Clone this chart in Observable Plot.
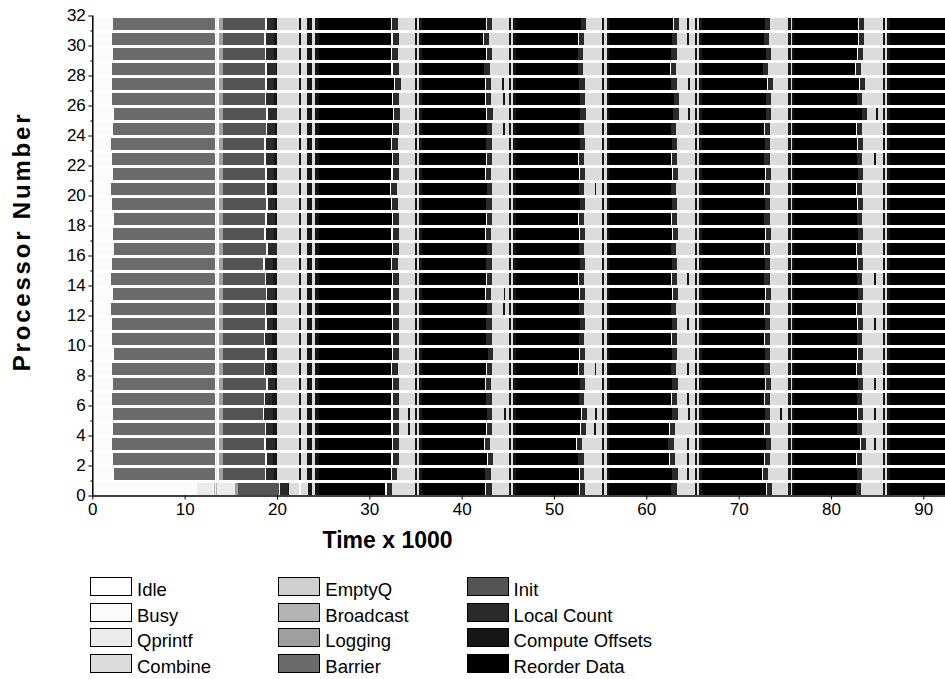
<!DOCTYPE html>
<html>
<head>
<meta charset="utf-8">
<script src="https://cdn.jsdelivr.net/npm/d3@7"></script>
<script src="https://cdn.jsdelivr.net/npm/@observablehq/plot@0.6"></script>
<style>
  html, body { margin: 0; padding: 0; background: #fff; }
  body { width: 945px; height: 679px; position: relative; overflow: hidden; font-family: "Liberation Sans", Arial, sans-serif; }
  #chart { position: absolute; left: 0; top: 0; }
  .item { position: absolute; display: flex; align-items: flex-start; height: 19px; white-space: nowrap; }
  .sw { width: 42px; height: 19px; box-sizing: border-box; border: 1.5px solid #000; flex: none; }
  .lb { margin-left: 5px; font-size: 18.5px; line-height: 19px; position: relative; top: 3px; color: #000; }
</style>
</head>
<body>
<div id="chart"></div>
<div id="legend"></div>
<script>
// ---- categories (states) and their grey levels ----
const stateNames = ["Idle", "Busy", "Qprintf", "Combine", "EmptyQ", "Broadcast", "Logging", "Barrier", "Init", "Local Count", "Compute Offsets", "Reorder Data"];
const stateColors = ["#ffffff", "#fbfbfb", "#ebebeb", "#dcdcdc", "#cfcfcf", "#b4b4b4", "#9f9f9f", "#6b6b6b", "#545454", "#2a2a2a", "#161616", "#000000"];

// ---- tick labels ----
const xTicks = [0, 10, 20, 30, 40, 50, 60, 70, 80, 90];
const yTicks = [0, 2, 4, 6, 8, 10, 12, 14, 16, 18, 20, 22, 24, 26, 28, 30, 32];
const yMinorTicks = [1, 3, 5, 7, 9, 11, 13, 15, 17, 19, 21, 23, 25, 27, 29, 31];

// ---- processor 0 start-up (state, end time) ----
const p0States = ["Busy", "Qprintf", "Idle", "Broadcast", "Qprintf", "Broadcast", "Qprintf", "Logging", "Init", "Idle", "Local Count", "Compute Offsets", "Combine", "Busy", "Combine", "Compute Offsets", "Combine", "Compute Offsets"];
const p0Ends = [11.35, 13.08, 13.2, 13.3, 13.45, 13.55, 15.5, 15.75, 20.25, 20.35, 21.15, 21.35, 22.4, 22.55, 23.35, 23.8, 24.15, 24.55];

// ---- processors 1..31 start-up (null = per-processor value) ----
const prologueStates = ["Idle", "Busy", "Barrier", "Idle", "Qprintf", "Idle", "Logging", "Init", "Idle", "Local Count", "Compute Offsets", "Combine", "Compute Offsets", "Combine", "Compute Offsets", "Combine", "Compute Offsets"];
const prologueEnds = [0.25, null, 13.3, 13.44, 13.55, 13.76, 14.12, null, null, null, 19.95, 22.35, 22.55, 23.3, 23.8, 24.1, 24.57];

// ---- phase boundaries shared by all processors (6 cycles) ----
const combineEnd = [34.95, 45.13, 55.17, 65.28, 75.39, 85.6];
const offsetsEnd = [35.2, 45.38, 55.42, 65.53, 75.64, 85.85];
const reorderStart = [35.42, 45.6, 55.71, 65.75, 75.82, 86.1];
const offsetsEnd2 = [35.68, 45.85, 55.95, 66.0, 76.05, 86.35];

// ---- per processor: barrier start, init end, count start, count end,
//      then per cycle: reorder end, local count start, local count end ----
const proc00 = [null, null, null, null, 31.70, 31.90, 32.50, 42.57, 42.64, 43.25, 52.75, 52.82, 53.36, 62.64, 62.64, 63.29, 72.93, 73.04, 73.58, 82.72, 82.72, 83.26];
const proc01 = [2.30, 18.75, 18.85, 19.65, 32.30, 32.45, 33.00, 42.50, 42.50, 43.15, 52.70, 52.80, 53.30, 62.82, 62.82, 63.40, 72.57, 72.64, 73.15, 82.79, 82.79, 83.33];
const proc02 = [2.24, 18.70, 18.95, 19.60, 32.35, 32.60, 33.22, 42.78, 42.82, 43.36, 52.64, 52.64, 53.25, 62.49, 62.57, 63.11, 72.78, 72.86, 73.40, 82.71, 82.79, 83.33];
const proc03 = [2.13, 18.60, 18.81, 19.75, 32.42, 32.60, 33.22, 42.42, 42.53, 43.07, 52.39, 52.46, 53.00, 62.39, 62.39, 63.00, 72.93, 72.97, 73.51, 83.15, 83.22, 83.76];
const proc04 = [2.24, 18.70, 18.81, 19.60, 32.35, 32.57, 33.22, 42.64, 42.71, 43.25, 52.82, 52.93, 53.43, 62.49, 62.57, 63.11, 72.78, 72.86, 73.40, 82.79, 82.86, 83.40];
const proc05 = [2.24, 18.49, 18.60, 19.54, 32.35, 32.57, 33.22, 42.71, 42.71, 43.33, 52.93, 53.00, 53.54, 62.82, 62.82, 63.40, 72.86, 72.86, 73.40, 82.86, 82.96, 83.50];
const proc06 = [2.13, 18.60, 18.70, 19.43, 32.40, 32.55, 33.20, 42.60, 42.66, 43.25, 52.70, 52.75, 53.30, 62.70, 62.75, 63.30, 72.80, 72.85, 73.40, 82.80, 82.85, 83.40];
const proc07 = [2.24, 18.81, 18.99, 19.79, 32.45, 32.57, 33.22, 42.55, 42.60, 43.20, 52.80, 52.85, 53.40, 62.80, 62.80, 63.40, 72.90, 72.95, 73.50, 82.90, 82.95, 83.50];
const proc08 = [2.13, 18.60, 18.70, 19.43, 32.35, 32.50, 33.15, 42.65, 42.70, 43.30, 52.65, 52.70, 53.25, 62.65, 62.70, 63.25, 72.75, 72.80, 73.35, 82.75, 82.80, 83.35];
const proc09 = [2.35, 18.70, 18.95, 19.60, 32.50, 32.60, 33.25, 42.85, 42.90, 43.45, 52.75, 52.80, 53.35, 62.75, 62.75, 63.35, 72.85, 72.90, 73.45, 82.85, 82.90, 83.45];
const proc10 = [2.13, 18.60, 18.70, 19.43, 32.40, 32.55, 33.20, 42.60, 42.65, 43.25, 52.70, 52.75, 53.30, 62.70, 62.75, 63.30, 72.80, 72.85, 73.40, 82.80, 82.85, 83.40];
const proc11 = [2.13, 18.70, 18.95, 19.60, 32.45, 32.55, 33.20, 42.60, 42.65, 43.25, 52.80, 52.85, 53.40, 62.75, 62.80, 63.35, 72.85, 72.90, 73.45, 82.85, 82.90, 83.45];
const proc12 = [2.02, 18.70, 18.81, 19.60, 32.35, 32.55, 33.20, 42.70, 42.75, 43.30, 52.70, 52.75, 53.30, 62.65, 62.70, 63.25, 72.80, 72.85, 73.40, 82.75, 82.80, 83.35];
const proc13 = [2.24, 18.81, 18.95, 19.79, 32.40, 32.55, 33.20, 42.55, 42.60, 43.20, 52.75, 52.80, 53.35, 62.80, 62.85, 63.40, 72.90, 72.95, 73.50, 82.90, 82.95, 83.50];
const proc14 = [2.02, 18.70, 18.81, 19.60, 32.45, 32.60, 33.25, 42.65, 42.70, 43.30, 52.65, 52.70, 53.25, 62.70, 62.75, 63.30, 72.75, 72.80, 73.35, 82.80, 82.85, 83.40];
const proc15 = [2.13, 18.49, 18.70, 19.54, 32.35, 32.50, 33.15, 42.60, 42.65, 43.25, 52.80, 52.85, 53.40, 62.75, 62.80, 63.35, 72.85, 72.90, 73.45, 82.85, 82.90, 83.45];
const proc16 = [2.35, 18.81, 18.99, 19.97, 32.50, 32.60, 33.25, 42.70, 42.75, 43.30, 52.70, 52.75, 53.30, 62.65, 62.70, 63.25, 72.80, 72.85, 73.40, 82.75, 82.80, 83.35];
const proc17 = [2.24, 18.60, 18.81, 19.72, 32.40, 32.55, 33.20, 42.55, 42.60, 43.20, 52.75, 52.80, 53.35, 62.80, 62.85, 63.40, 72.90, 72.95, 73.50, 82.90, 82.95, 83.50];
const proc18 = [2.35, 18.70, 18.95, 19.79, 32.45, 32.60, 33.25, 42.65, 42.70, 43.30, 52.65, 52.70, 53.25, 62.70, 62.75, 63.30, 72.75, 72.80, 73.35, 82.80, 82.85, 83.40];
const proc19 = [2.13, 18.81, 18.99, 19.79, 32.35, 32.50, 33.15, 42.60, 42.65, 43.25, 52.80, 52.85, 53.40, 62.75, 62.80, 63.35, 72.85, 72.90, 73.45, 82.85, 82.90, 83.45];
const proc20 = [2.02, 18.70, 18.95, 19.60, 32.20, 32.35, 33.00, 42.70, 42.75, 43.30, 52.70, 52.75, 53.30, 62.65, 62.70, 63.25, 72.80, 72.85, 73.40, 82.75, 82.80, 83.35];
const proc21 = [2.24, 18.70, 18.95, 19.65, 32.40, 32.55, 33.20, 42.55, 42.60, 43.20, 52.75, 52.80, 53.35, 62.80, 62.85, 63.40, 72.90, 72.95, 73.50, 82.90, 82.95, 83.50];
const proc22 = [2.13, 18.60, 18.81, 19.72, 32.45, 32.60, 33.25, 42.65, 42.70, 43.30, 52.65, 52.70, 53.25, 62.70, 62.75, 63.30, 72.75, 72.80, 73.35, 82.80, 82.85, 83.40];
const proc23 = [2.02, 18.60, 18.81, 19.72, 32.35, 32.50, 33.15, 42.60, 42.65, 43.25, 52.80, 52.85, 53.40, 62.75, 62.80, 63.35, 72.85, 72.90, 73.45, 82.85, 82.90, 83.45];
const proc24 = [2.24, 18.81, 18.88, 19.79, 32.50, 32.60, 33.25, 42.70, 42.75, 43.30, 52.70, 52.75, 53.30, 62.65, 62.70, 63.25, 72.80, 72.85, 73.40, 82.75, 82.80, 83.35];
const proc25 = [2.35, 18.81, 18.99, 19.97, 32.57, 32.68, 33.33, 42.64, 42.78, 43.36, 52.82, 52.82, 53.43, 62.86, 62.86, 63.54, 72.93, 72.93, 73.51, 83.33, 83.40, 83.87];
const proc26 = [2.10, 18.70, 18.77, 19.72, 32.46, 32.57, 33.22, 42.53, 42.64, 43.18, 52.82, 52.82, 53.36, 63.00, 63.00, 63.58, 72.93, 72.97, 73.51, 82.82, 82.86, 83.40];
const proc27 = [2.10, 18.70, 18.88, 19.72, 32.68, 32.79, 33.40, 42.53, 42.64, 43.18, 52.75, 52.75, 53.36, 62.68, 62.68, 63.29, 73.11, 73.18, 73.69, 83.07, 83.15, 83.69];
const proc28 = [2.10, 18.70, 18.88, 19.90, 32.32, 32.57, 33.22, 42.46, 42.46, 43.07, 52.57, 52.57, 53.18, 62.57, 62.68, 63.22, 72.64, 72.64, 73.22, 82.64, 82.71, 83.25];
const proc29 = [2.20, 18.70, 18.77, 19.72, 32.32, 32.50, 33.15, 42.64, 42.71, 43.33, 52.64, 52.64, 53.18, 62.68, 62.68, 63.29, 72.93, 72.97, 73.51, 82.86, 82.96, 83.50];
const proc30 = [2.10, 18.60, 18.77, 19.72, 32.32, 32.57, 33.22, 42.35, 42.42, 42.96, 52.64, 52.71, 53.25, 62.75, 62.75, 63.36, 72.75, 72.75, 73.29, 82.96, 83.00, 83.58];
const proc31 = [2.20, 18.70, 18.88, 19.72, 32.32, 32.42, 33.08, 42.64, 42.71, 43.33, 52.93, 52.93, 53.47, 62.93, 63.00, 63.54, 72.86, 72.86, 73.40, 82.96, 83.00, 83.58];

// ---- short Compute Offsets spikes inside Combine phases ----
const spikeProc = [1, 2, 3, 3, 4, 4, 5, 5, 5, 5, 5, 5, 6, 7, 8, 8, 11, 11, 12, 13, 14, 14, 20, 22, 24, 25, 25, 26, 27, 27, 30, 31];
const spikeTime = [64.40, 64.44, 64.44, 84.66, 34.23, 54.37, 34.23, 44.60, 54.44, 64.55, 74.48, 84.66, 64.45, 84.70, 54.40, 64.45, 64.45, 84.70, 44.50, 44.55, 64.45, 84.70, 54.40, 84.70, 44.50, 64.55, 84.85, 44.50, 44.40, 64.55, 64.44, 64.44];

const procs = [proc00, proc01, proc02, proc03, proc04, proc05, proc06, proc07, proc08, proc09, proc10, proc11, proc12, proc13, proc14, proc15, proc16, proc17, proc18, proc19, proc20, proc21, proc22, proc23, proc24, proc25, proc26, proc27, proc28, proc29, proc30, proc31];

// ---- build segments ----
const segs = [];
procs.forEach((v, p) => {
  let t = 0;
  const push = (state, end) => { if (end > t) segs.push({p, state, a: t, b: end}); t = Math.max(t, end); };
  if (p === 0) {
    p0States.forEach((s, i) => push(s, p0Ends[i]));
  } else {
    let j = 0;
    prologueStates.forEach((s, i) => push(s, prologueEnds[i] === null ? v[j++] : prologueEnds[i]));
  }
  for (let k = 0; k < 6; k++) {
    push("Reorder Data", v[4 + 3 * k]);
    push("Idle", v[5 + 3 * k]);
    push("Local Count", v[6 + 3 * k]);
    push("Combine", combineEnd[k]);
    push("Compute Offsets", offsetsEnd[k]);
    push("Combine", reorderStart[k]);
    push("Compute Offsets", offsetsEnd2[k]);
  }
  push("Reorder Data", 93);
});
spikeProc.forEach((p, i) => segs.push({p, state: "Compute Offsets", a: spikeTime[i], b: spikeTime[i] + 0.2}));

const chart = Plot.plot({
  width: 945,
  height: 560,
  marginLeft: 92.3,
  marginRight: 0,
  marginTop: 15.5,
  marginBottom: 64.5,
  x: {domain: [0, 92.35]},
  y: {domain: [0, 32]},
  color: {domain: stateNames, range: stateColors},
  style: {fontFamily: "'Liberation Sans', Arial, sans-serif", fontSize: "17px", color: "#000", background: "#fff"},
  marks: [
    Plot.rect(segs, {x1: "a", x2: "b", y1: d => d.p + 0.05, y2: d => d.p + 0.83, fill: "state", clip: true, shapeRendering: "crispEdges"}),
    Plot.ruleY([0], {stroke: "#000", strokeWidth: 1.5}),
    Plot.ruleX([0], {stroke: "#000", strokeWidth: 1.5}),
    Plot.axisX({ticks: xTicks, tickSize: 4, tickPadding: 3, label: null, fontSize: 17, stroke: "#000"}),
    Plot.axisY({ticks: yTicks, tickSize: 4, tickPadding: 3, label: null, fontSize: 17}),
    Plot.axisY({ticks: yMinorTicks, tickSize: 2, text: null, label: null}),
    Plot.text(["Time x 1000"], {text: d => d, frameAnchor: "bottom", dx: -131.6, dy: 52, fontWeight: "bold", fontSize: 23}),
    Plot.text(["Processor Number"], {text: d => d, frameAnchor: "left", textAnchor: "middle", rotate: -90, dx: -70, dy: -14.5, fontWeight: "bold", fontSize: 24})
  ]
});
document.getElementById("chart").appendChild(chart);
chart.querySelectorAll("text").forEach(t => {
  if (t.textContent === "Processor Number") t.setAttribute("letter-spacing", "2.8");
});

// ---- legend (HTML, below the SVG) ----
const legend = document.getElementById("legend");
stateNames.forEach((name, i) => {
  const col = Math.floor(i / 4), row = i % 4;
  const item = document.createElement("div");
  item.className = "item";
  item.style.left = (90 + col * 188.3) + "px";
  item.style.top = (577.3 + row * 25.4) + "px";
  const sw = document.createElement("span");
  sw.className = "sw";
  sw.style.background = stateColors[i];
  const lb = document.createElement("span");
  lb.className = "lb";
  lb.textContent = name;
  item.appendChild(sw);
  item.appendChild(lb);
  legend.appendChild(item);
});
</script>
</body>
</html>
